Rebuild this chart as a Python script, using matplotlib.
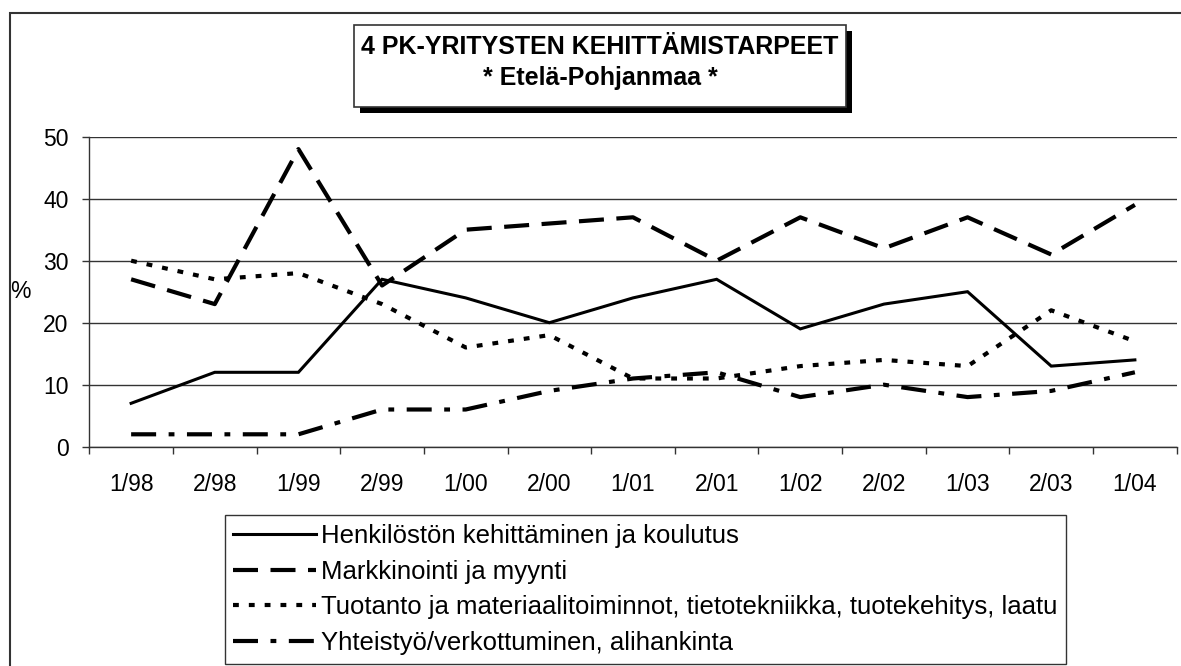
import matplotlib
matplotlib.use("Agg")
import matplotlib.pyplot as plt
from matplotlib.patches import Rectangle

plt.rcParams['font.family'] = ['Liberation Sans', 'DejaVu Sans']

categories = ["1/98", "2/98", "1/99", "2/99", "1/00", "2/00", "1/01",
              "2/01", "1/02", "2/02", "1/03", "2/03", "1/04"]
henkilosto = [7, 12, 12, 27, 24, 20, 24, 27, 19, 23, 25, 13, 14]
markkinointi = [27, 23, 48, 26, 35, 36, 37, 30, 37, 32, 37, 31, 39]
tuotanto = [30, 27, 28, 23, 16, 18, 11, 11, 13, 14, 13, 22, 17]
yhteistyo = [2, 2, 2, 6, 6, 9, 11, 12, 8, 10, 8, 9, 12]
labels = ["Henkilöstön kehittäminen ja koulutus",
          "Markkinointi ja myynti",
          "Tuotanto ja materiaalitoiminnot, tietotekniikka, tuotekehitys, laatu",
          "Yhteistyö/verkottuminen, alihankinta"]
yticks = [0, 10, 20, 30, 40, 50]
title1 = "4 PK-YRITYSTEN KEHITTÄMISTARPEET"
title2 = "* Etelä-Pohjanmaa *"

W, H = 1181, 666
fig = plt.figure(figsize=(W / 100, H / 100), dpi=100)

def px(x, y):
    return x / W, 1 - y / H

# outer border
fig.add_artist(Rectangle(px(10, 700), (W + 20) / W, (700 - 12.5) / H,
                         transform=fig.transFigure, fill=False,
                         edgecolor='#333333', lw=1.5, clip_on=False))

# title box with shadow
bx0, by0, bx1, by1 = 354, 25, 846, 107
fig.add_artist(Rectangle(px(bx0 + 6, by1 + 6), (bx1 - bx0) / W, (by1 - by0) / H,
                         transform=fig.transFigure, facecolor='black',
                         edgecolor='black', lw=0))
fig.add_artist(Rectangle(px(bx0, by1), (bx1 - bx0) / W, (by1 - by0) / H,
                         transform=fig.transFigure, facecolor='white',
                         edgecolor='#333333', lw=1.2))
fig.text(*px((bx0 + bx1) / 2, 47), title1, ha='center', va='center',
         fontsize=18, fontweight='bold')
fig.text(*px((bx0 + bx1) / 2, 78), title2, ha='center', va='center',
         fontsize=18, fontweight='bold')

# axes
ax_l, ax_r, ax_t, ax_b = 89.3, 1176.7, 136.7, 446.7
ax = fig.add_axes([ax_l / W, 1 - ax_b / H, (ax_r - ax_l) / W, (ax_b - ax_t) / H])
x = list(range(len(categories)))

ax.plot(x, henkilosto, color='black', lw=2.2, solid_joinstyle='miter',
        label=labels[0])
ax.plot(x, markkinointi, color='black', lw=3.0, dashes=(6, 3),
        label=labels[1])
ax.plot(x, tuotanto, color='black', lw=3.0, dashes=(1.4, 2.4),
        label=labels[2])
ax.plot(x, yhteistyo, color='black', lw=3.0, dashes=(6, 3, 1.4, 3),
        label=labels[3])

ax.set_xlim(-0.5, len(categories) - 0.5)
ax.set_ylim(0, 50)
ax.set_yticks(yticks)
ax.set_yticklabels([str(v) for v in yticks])
ax.yaxis.grid(True, color='#333333', lw=1.0)
ax.set_axisbelow(True)
ax.set_xticks(x)
ax.set_xticklabels(categories)
ax.set_xticks([i - 0.5 for i in range(len(categories) + 1)], minor=True)
ax.tick_params(axis='x', which='major', length=0, pad=19, labelsize=16.5)
ax.tick_params(axis='x', which='minor', length=5, width=1, direction='out',
               color='#333333')
ax.tick_params(axis='y', length=5, width=1, pad=10, labelsize=16.5,
               color='#333333')
for s in ['top', 'right']:
    ax.spines[s].set_visible(False)
for s in ['left', 'bottom']:
    ax.spines[s].set_color('#333333')
    ax.spines[s].set_linewidth(1.0)

fig.text(*px(20, 292), "%", ha='center', va='center', fontsize=16.5)

leg = fig.legend(loc='upper left', bbox_to_anchor=px(224.5, 515),
                 bbox_transform=fig.transFigure, fontsize=18.5,
                 handlelength=3.2, handletextpad=0.2, labelspacing=0.45,
                 borderpad=0.35, borderaxespad=0, fancybox=False,
                 framealpha=1)
leg.get_frame().set_edgecolor('#333333')
leg.get_frame().set_linewidth(1.0)

fig.savefig("out.png", dpi=100)
